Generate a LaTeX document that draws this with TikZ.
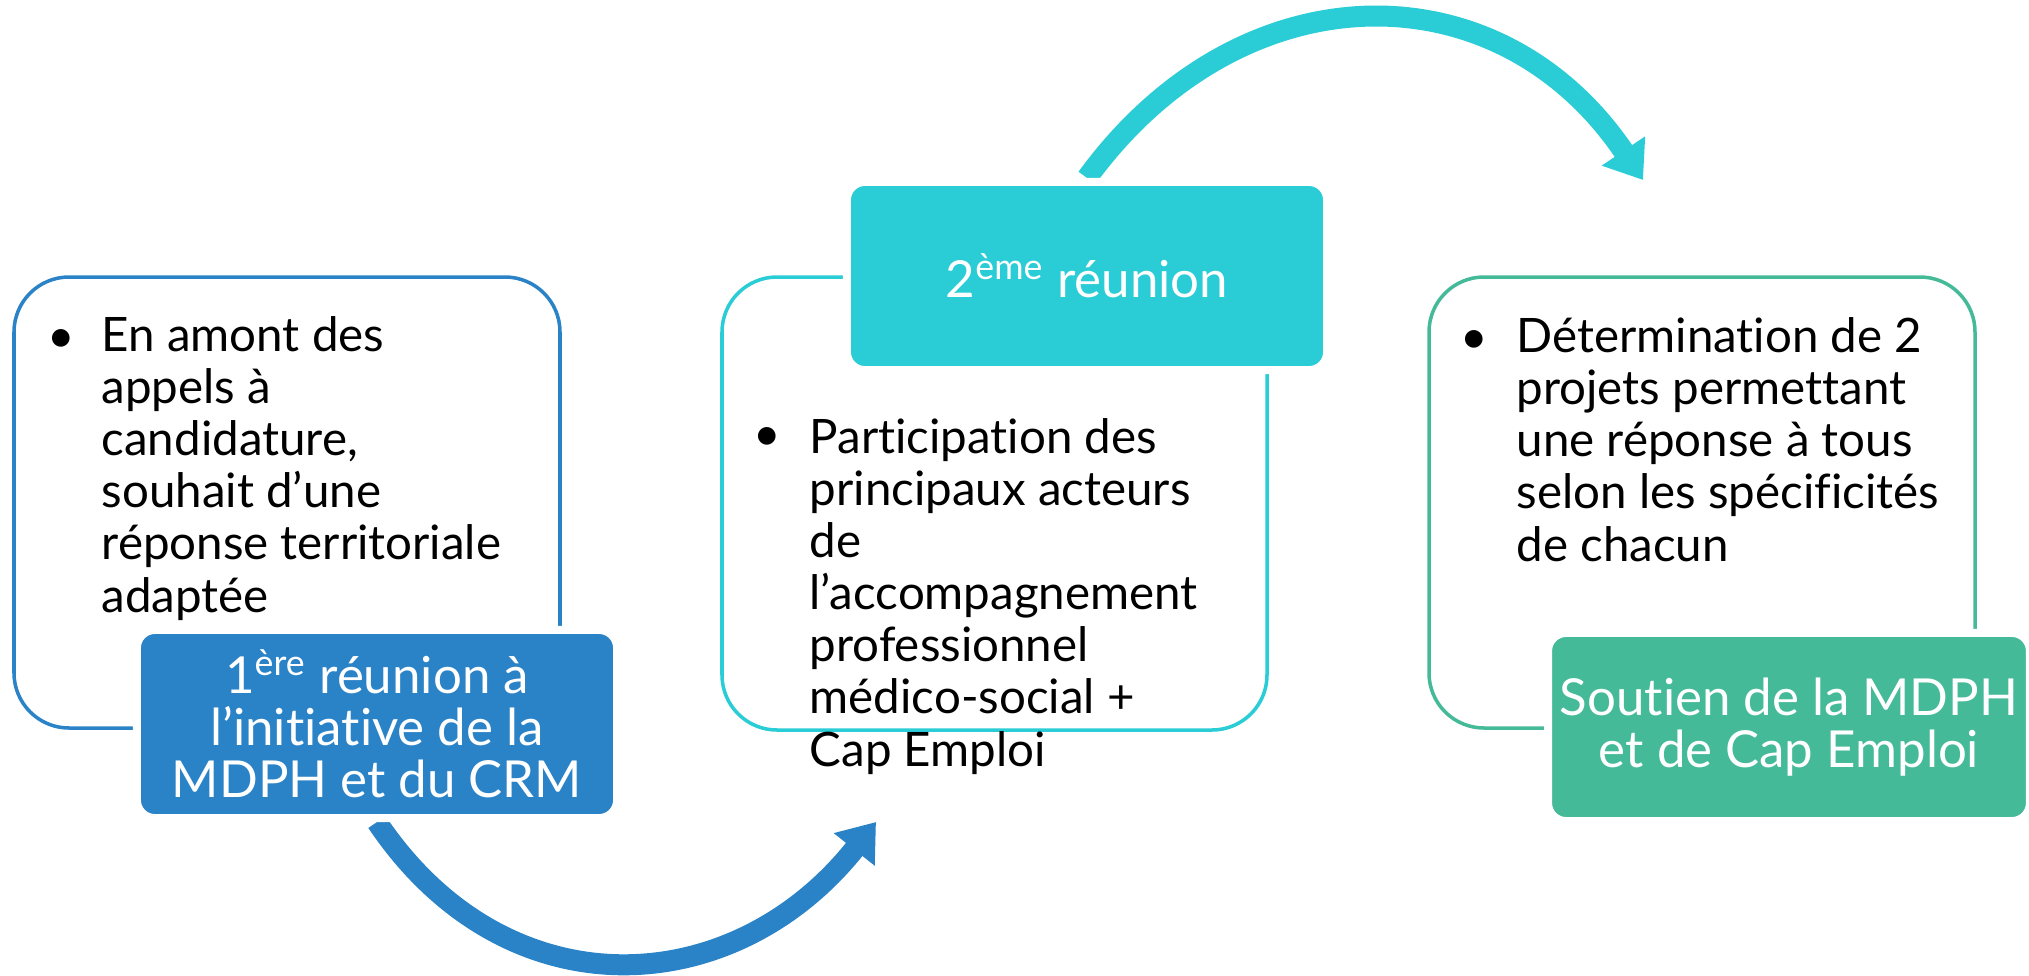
\documentclass[tikz,border=0pt]{standalone}
\usepackage{fontspec}
\setmainfont{Lato}[Ligatures=NoCommon]
\usetikzlibrary{arrows.meta,backgrounds}
\definecolor{mdphblue}{RGB}{42,130,199}
\definecolor{mdphcyan}{RGB}{42,204,214}
\definecolor{mdphgreen}{RGB}{69,186,152}
\tikzset{panel/.style={draw,line width=1pt,rounded corners=0.55cm}}
\tikzset{tag/.style={rounded corners=0.18cm,draw=white,line width=0.08cm,text=white,align=center,minimum width=4.8cm,minimum height=1.88cm,font=\fontsize{14.5}{14.8}\selectfont}}
\tikzset{item/.style={anchor=base west,inner sep=0pt,align=left,font=\fontsize{13.5}{14.8}\selectfont}}
\tikzset{dot/.style={anchor=base,inner sep=0pt,font=\fontsize{13.5}{14.8}\selectfont}}
\tikzset{flow/.style={line width=0.21cm,-{Triangle[length=0.35cm,width=0.5cm]}}}
\begin{document}
\begin{tikzpicture}[x=0.01cm,y=-0.01cm]
    \useasboundingbox (0,0) rectangle (2029,975);
    \draw[panel,mdphblue] (14,277) rectangle (560,728);
    \draw[panel,mdphcyan] (722,277) rectangle (1267,730);
    \draw[panel,mdphgreen] (1429,277) rectangle (1975,728);
    \node[dot] (b1) at (61,352) {•};
    \node[item] (t1) at (101,612) {En amont des\\appels à\\candidature,\\souhait d’une\\réponse territoriale\\adaptée};
    \node[dot] (b2) at (767,450) {•};
    \node[item] (t2) at (809,766) {Participation des\\principaux acteurs\\de\\l’accompagnement\\professionnel\\médico-social +\\Cap Emploi};
    \node[dot] (b3) at (1474,353) {•};
    \node[item] (t3) at (1516,561) {Détermination de 2\\projets permettant\\une réponse à tous\\selon les spécificités\\de chacun};
    \node[tag,fill=mdphblue] (lab1) at (377,724) {1\textsuperscript{ère} réunion à\\l’initiative de la\\MDPH et du CRM};
    \node[tag,fill=mdphcyan] (lab2) at (1087,276) {2\textsuperscript{ème} réunion};
    \node[tag,fill=mdphgreen] (lab3) at (1789,727) {Soutien de la MDPH\\et de Cap Emploi};
    \coordinate (tip1) at (876,822);
    \coordinate (tip2) at (1643,180);
    \begin{scope}[on background layer]
    \draw[flow,mdphblue] (lab1.south) .. controls +(129,192) and +(-143,180) .. (tip1);
    \draw[flow,mdphcyan] (lab2.north) .. controls +(153,-210) and +(-145,-215) .. (tip2);
    \end{scope}
  \end{tikzpicture}
\end{document}
